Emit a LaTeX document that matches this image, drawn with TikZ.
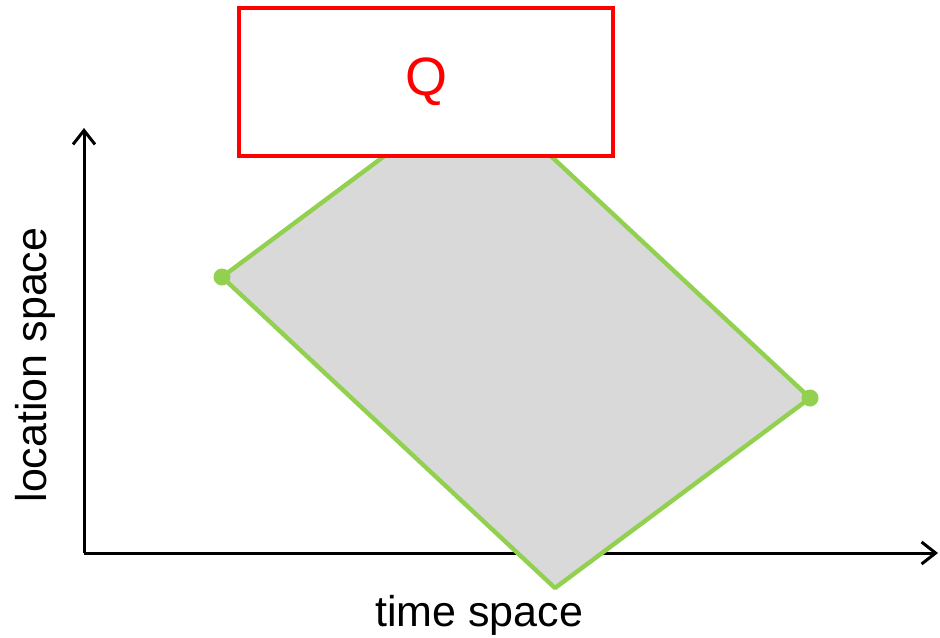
\documentclass[tikz,border=0pt]{standalone}
\usepackage{fontspec}
\setmainfont{Liberation Sans}
\usepackage{xcolor}
\usetikzlibrary{positioning,arrows.meta,calc}
\definecolor{regiongreen}{HTML}{92D050}
\definecolor{regiongray}{HTML}{D9D9D9}

\begin{document}
\begin{tikzpicture}[
    x=0.5pt, y=-0.5pt,
    axis/.style={-{Straight Barb[length=7pt, width=11pt]}, line width=1.5pt, black},
    region/.style={fill=regiongray, draw=regiongreen, line width=2.2pt, line join=round},
    endpt/.style={circle, fill=regiongreen, inner sep=0pt, minimum size=8.5pt},
    qbox/.style={draw=red, fill=white, line width=2pt, minimum width=187pt, minimum height=74pt, text=red, font=\fontsize{27}{32}\selectfont},
    lbl/.style={font=\fontsize{21.5}{26}\selectfont}
]
\useasboundingbox (0,0) rectangle (940,637);

% Axes
\coordinate (origin) at (84,553);
\coordinate (yend) at (84,128);
\coordinate (xend) at (938,553);
\draw[axis] (origin) -- (yend);
\draw[axis] (origin) -- (xend);

% Region
\coordinate (west) at (222,277);
\coordinate (north) at (477,87);
\coordinate (east) at (810,398);
\coordinate (south) at (555,588);
\draw[region] (west) -- (north) -- (east) -- (south) -- cycle;
\node[endpt] (wdot) at (west) {};
\node[endpt] (edot) at (east) {};

% Query box
\node[qbox] (query) at (426,82) {Q};

% Axis labels
\node[lbl, anchor=base] (tlabel) at (479,626) {time space};
\node[lbl, anchor=base, rotate=90] (llabel) at (46,365) {location space};
\end{tikzpicture}
\end{document}
